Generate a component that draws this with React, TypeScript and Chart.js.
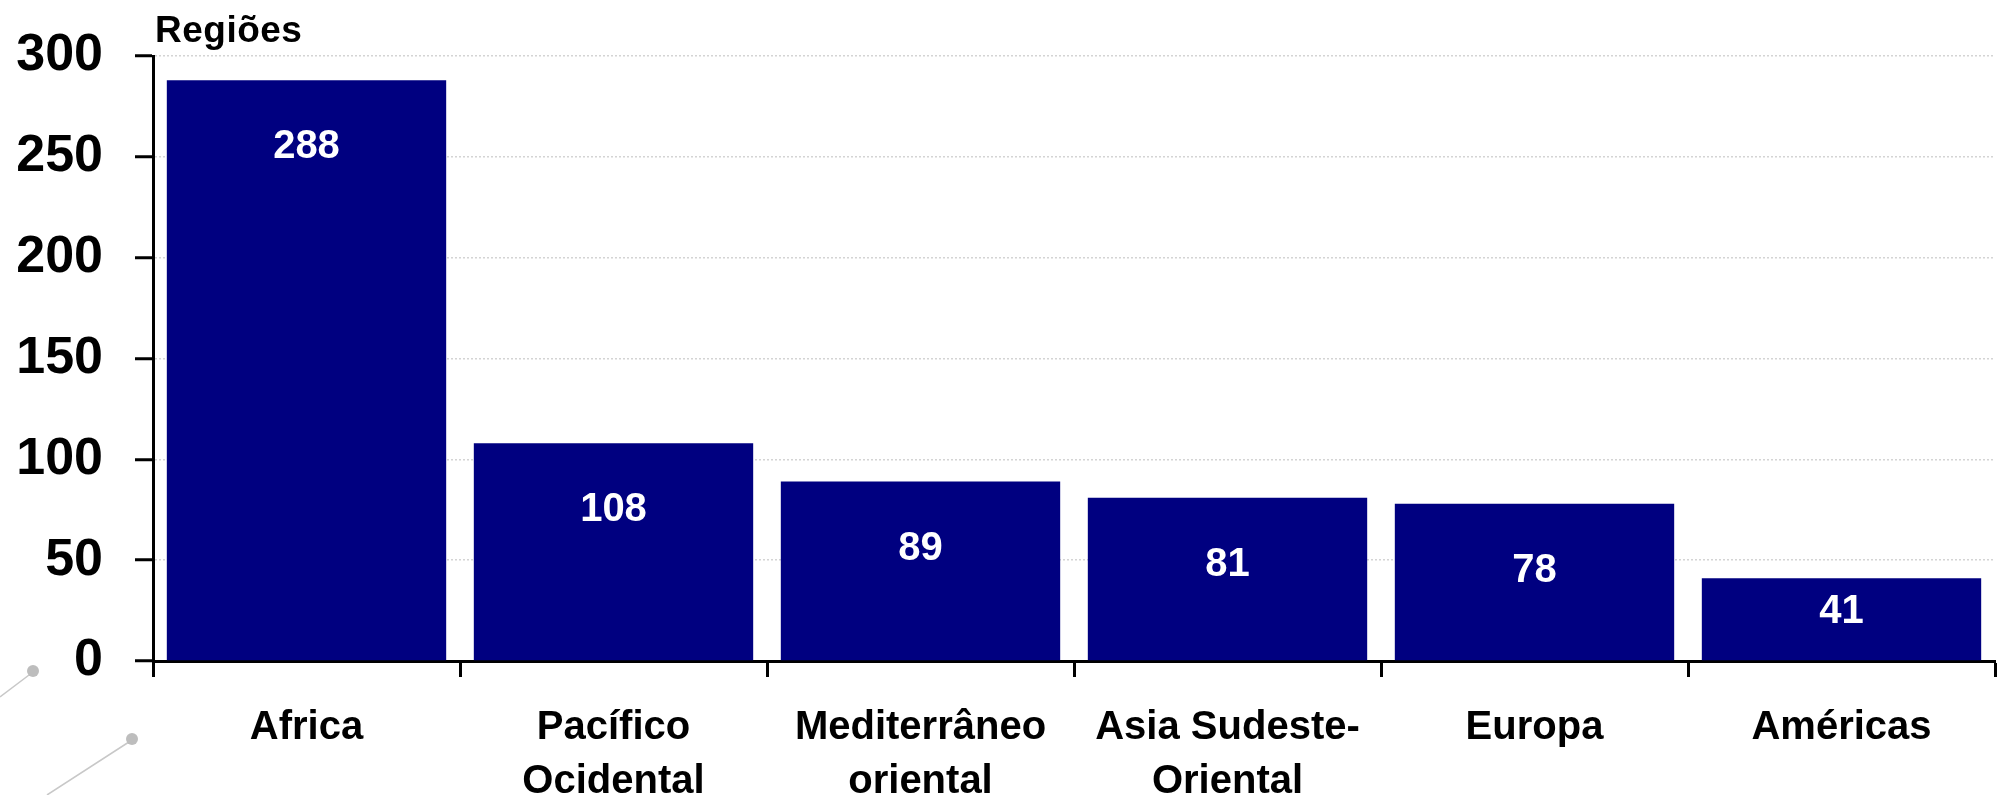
import React, { useEffect, useRef } from "react";
import { Chart, registerables } from "chart.js";

Chart.register(...registerables);

const categories: (string | string[])[] = [
  "Africa",
  ["Pacífico", "Ocidental"],
  ["Mediterrâneo", "oriental"],
  ["Asia Sudeste-", "Oriental"],
  "Europa",
  "Américas",
];
const values: number[] = [288, 108, 89, 81, 78, 41];
const yTicks: number[] = [0, 50, 100, 150, 200, 250, 300];
const titleText = "Regiões";

const FONT = "'Liberation Sans', Arial, Helvetica, sans-serif";

const labelsPlugin = {
  id: "barLabels",
  afterDatasetsDraw(chart: any) {
    const ctx = chart.ctx;
    const meta = chart.getDatasetMeta(0);
    ctx.save();
    ctx.fillStyle = "#ffffff";
    ctx.font = `bold 40px ${FONT}`;
    ctx.textAlign = "center";
    ctx.textBaseline = "middle";
    meta.data.forEach((bar: any, i: number) => {
      const h = bar.base - bar.y;
      const off = Math.min(67, h / 2 - 7);
      ctx.fillText(String(values[i]), bar.x, bar.y + off);
    });
    ctx.restore();
  },
};

const titlePlugin = {
  id: "cornerTitle",
  afterDraw(chart: any) {
    const ctx = chart.ctx;
    const area = chart.chartArea;
    ctx.save();
    ctx.fillStyle = "#000";
    ctx.font = `bold 37px ${FONT}`;
    try {
      (ctx as any).letterSpacing = "0.5px";
    } catch (e) {}
    ctx.textAlign = "left";
    ctx.textBaseline = "alphabetic";
    ctx.fillText(titleText, area.left + 2, area.top - 14);
    ctx.restore();
  },
};

const decorPlugin = {
  id: "decor",
  afterDraw(chart: any) {
    const ctx = chart.ctx;
    const dot = (x: number, y: number) => {
      ctx.beginPath();
      ctx.arc(x, y, 6, 0, Math.PI * 2);
      ctx.fill();
    };
    ctx.save();
    ctx.strokeStyle = "#c8c8c8";
    ctx.fillStyle = "#bdbdbd";
    ctx.lineWidth = 1.5;
    ctx.beginPath();
    ctx.moveTo(0, 697);
    ctx.lineTo(33, 672);
    ctx.moveTo(47, 795);
    ctx.lineTo(132, 740);
    ctx.stroke();
    dot(33, 671);
    dot(132, 739);
    ctx.restore();
  },
};

export default function App() {
  const ref = useRef<HTMLCanvasElement | null>(null);

  useEffect(() => {
    if (!ref.current) return;
    const chart = new Chart(ref.current, {
      type: "bar",
      data: {
        labels: categories as any,
        datasets: [
          {
            data: values,
            backgroundColor: "#000080",
            borderWidth: 0,
            barPercentage: 0.91,
            categoryPercentage: 1,
          },
        ],
      },
      options: {
        animation: false,
        responsive: true,
        maintainAspectRatio: false,
        layout: { padding: { top: 56, right: 7, left: 0, bottom: 0 } },
        plugins: {
          legend: { display: false },
          tooltip: { enabled: false },
          title: { display: false },
        },
        scales: {
          x: {
            afterFit(scale: any) {
              scale.height = 134;
            },
            grid: {
              display: true,
              drawOnChartArea: false,
              offset: true,
              tickLength: 16,
              tickColor: "#000",
              tickWidth: 3,
            },
            border: { display: true, color: "#000", width: 3 },
            ticks: {
              color: "#000",
              padding: 24,
              maxRotation: 0,
              autoSkip: false,
              font: { family: FONT, size: 40, weight: "bold", lineHeight: 1.35 },
            },
          },
          y: {
            min: 0,
            max: 300,
            afterFit(scale: any) {
              scale.width = 153;
              scale.paddingTop = 0;
              scale.paddingBottom = 0;
            },
            afterBuildTicks(scale: any) {
              scale.ticks = yTicks.map((v) => ({ value: v }));
            },
            grid: {
              color: (c: any) => (c.tick && c.tick.value === 0 ? "rgba(0,0,0,0)" : "#d4d4d4"),
              lineWidth: 1.5,
              tickLength: 18,
              tickColor: "#000",
              tickWidth: 3,
            },
            border: { display: true, color: "#000", width: 3, dash: [2, 2] },
            ticks: {
              color: "#000",
              padding: 32,
              font: { family: FONT, size: 52, weight: "bold" },
            },
          },
        },
      },
      plugins: [labelsPlugin, titlePlugin, decorPlugin],
    });
    return () => chart.destroy();
  }, []);

  return (
    <div
      style={{
        position: "fixed",
        left: 0,
        top: 0,
        width: 2002,
        height: 795,
        background: "#fff",
      }}
    >
      <canvas ref={ref} />
    </div>
  );
}
